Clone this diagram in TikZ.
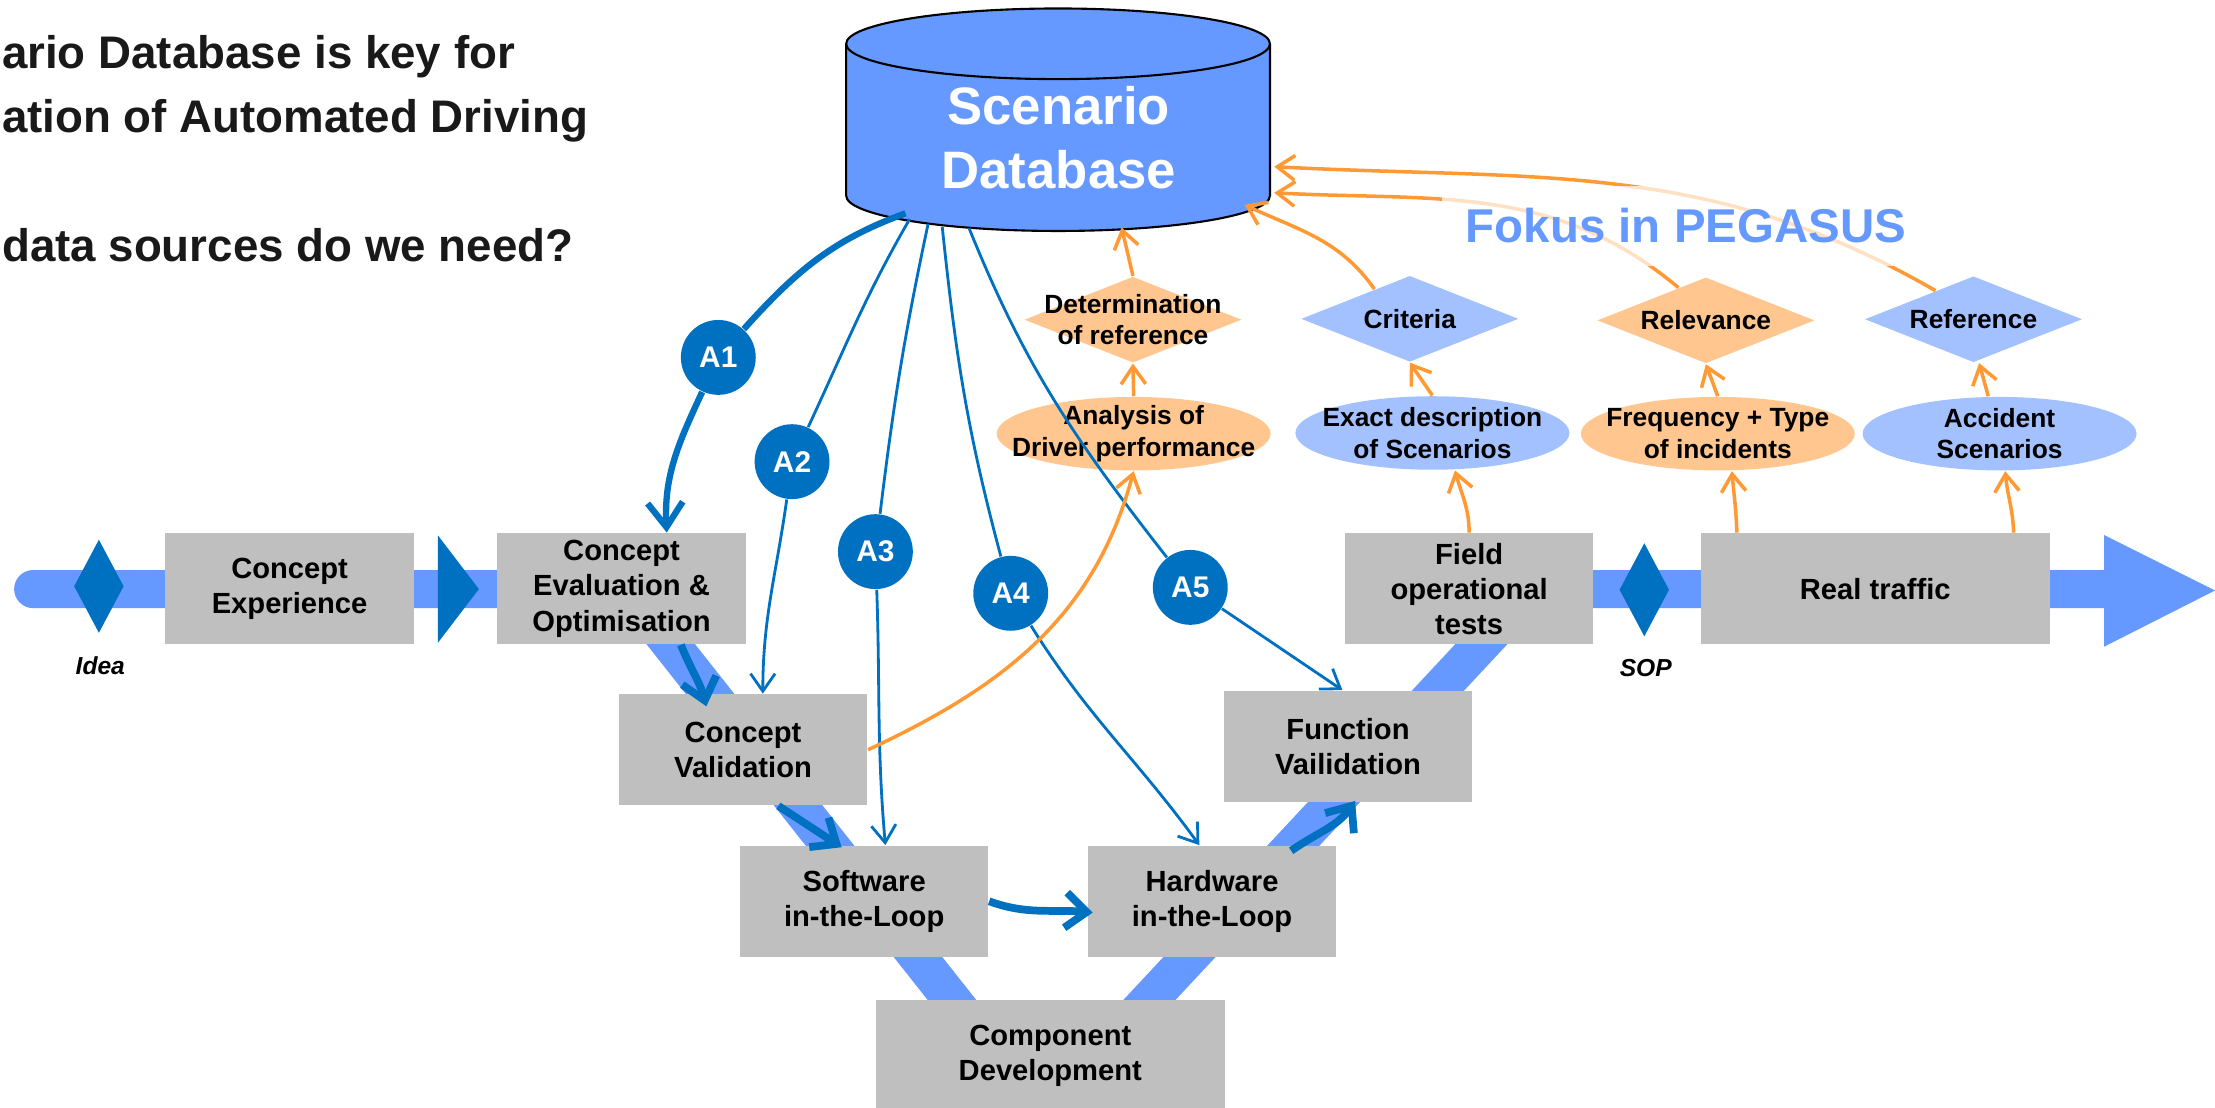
\documentclass[tikz,border=0pt]{standalone}
\usepackage{fontspec}
\setmainfont{Liberation Sans}
\usetikzlibrary{shapes.geometric,arrows.meta,calc}

\definecolor{bandblue}{RGB}{102,153,255}
\definecolor{darkblue}{RGB}{0,112,192}
\definecolor{boxgray}{RGB}{191,191,191}
\definecolor{lightorange}{RGB}{255,199,143}
\definecolor{lightblue}{RGB}{163,193,255}
\definecolor{lineorange}{RGB}{255,153,51}

\tikzset{
stage/.style={rectangle,fill=boxgray,align=center,minimum width=2.486cm,minimum height=1.109cm,inner sep=0pt,font=\fontsize{8.3}{10}\selectfont\bfseries},
widestage/.style={stage,minimum width=3.489cm},
source/.style={ellipse,minimum width=2.74cm,minimum height=0.735cm,inner sep=0pt},
check/.style={diamond,minimum width=2.175cm,minimum height=0.862cm,inner sep=0pt},
txt/.style={align=center,font=\fontsize{7.5}{9}\selectfont\bfseries},
acirc/.style={circle,fill=darkblue,text=white,minimum size=0.749cm,inner sep=0pt,font=\fontsize{8.5}{10}\selectfont\bfseries},
gate/.style={diamond,fill=darkblue,minimum width=0.5cm,minimum height=0.937cm,inner sep=0pt},
milestone/.style={font=\fontsize{7}{8}\selectfont\bfseries\itshape},
band/.style={bandblue,line width=3.814mm},
aline/.style={darkblue,line width=0.8pt,-{Straight Barb[length=5pt,width=7pt]}},
flow/.style={darkblue,line width=2.2pt,-{Straight Barb[length=6pt,width=10pt]}},
oline/.style={lineorange,line width=1pt,-{Straight Barb[length=5pt,width=7pt]}},
fokus/.style={fill=white,fill opacity=0.7,text opacity=1,text=bandblue,minimum width=4.874cm,minimum height=0.791cm,inner sep=0pt,font=\fontsize{13.5}{15}\selectfont\bfseries}
}

\begin{document}
\begin{tikzpicture}[x=0.014126cm,y=0.014126cm]
\useasboundingbox (0,0) rectangle (1568,-784);

% the process band (V) and its arrow
\draw[band,line cap=round,line join=round] (23.5,-417) -- (444,-417) -- (738,-789) -- (1085,-417) -- (1491,-417);
\fill[bandblue] (1489.5,-378.7) -- (1568,-418) -- (1489.5,-457.8) -- cycle;
\fill[darkblue] (310,-379) -- (339,-417) -- (310,-455) -- cycle;

% the database drum
\fill[bandblue] (599,-31) -- (599,-138.5) arc[start angle=180,end angle=360,x radius=150,y radius=25] -- (899,-31) -- cycle;
\draw[line width=0.6pt] (599,-31) -- (599,-138.5) arc[start angle=180,end angle=360,x radius=150,y radius=25] -- (899,-31);
\draw[line width=0.6pt,fill=bandblue] (749,-31) ellipse [x radius=150,y radius=25];
\node[align=center,text=white,font=\fontsize{15}{18}\selectfont\bfseries] (db) at (749.5,-97.5) {Scenario\\Database};
\coordinate (dba1) at (641,-151);
\coordinate (dba2) at (644,-155);
\coordinate (dba3) at (657,-158.5);
\coordinate (dba4) at (667,-160.5);
\coordinate (dba5) at (686,-161.5);
\coordinate (dbo1) at (794,-161);
\coordinate (dbo2) at (881,-145);
\coordinate (dbo3) at (902,-136.5);
\coordinate (dbo4) at (902,-118);

% the title text
\node[anchor=north west,align=left,inner sep=0pt,text=black!90,font=\fontsize{13}{18.3}\selectfont\bfseries] (head) at (1,-24.5) {ario Database is key for\\ation of Automated Driving\\[18.3pt]data sources do we need?};

% the stages along the V
\node[stage] (ce) at (205,-416.75) {Concept\\Experience};
\node[stage] (ceo) at (440,-416.75) {Concept\\Evaluation \&\\Optimisation};
\node[stage] (cv) at (526,-530.75) {Concept\\Validation};
\node[stage] (sil) at (611.75,-638) {Software\\in-the-Loop};
\node[stage] (hil) at (858,-638) {Hardware\\in-the-Loop};
\node[widestage] (comp) at (743.5,-747.25) {Component\\Development};
\node[stage] (fv) at (954.25,-528.25) {Function\\Vailidation};
\node[stage] (fot) at (1040,-416.75) {Field\\operational\\tests};
\node[widestage] (real) at (1327.5,-416.75) {Real traffic};

\node[gate] (idea) at (70,-415) {};
\node[gate] (sop) at (1164,-417.5) {};
\node[milestone] (idealbl) at (71,-471.5) {Idea};
\node[milestone] (soplbl) at (1165,-473) {SOP};

% the data sources and what they give
\node[source,fill=lightorange,label={[txt]center:{Analysis of\\Driver performance}}] (adp) at (802.5,-307) {};
\node[source,fill=lightblue,label={[txt]center:{Exact description\\of Scenarios}}] (eds) at (1014,-306.5) {};
\node[source,fill=lightorange,label={[txt]center:{Frequency + Type\\of incidents}}] (fti) at (1216,-307) {};
\node[source,fill=lightblue,label={[txt]center:{Accident\\Scenarios}}] (acs) at (1415.5,-307) {};

\node[check,fill=lightorange,label={[txt]center:{Determination\\of reference}}] (dor) at (802,-226.3) {};
\node[check,fill=lightblue,label={[txt]center:{Criteria}}] (cri) at (998,-225.7) {};
\node[check,fill=lightorange,label={[txt]center:{Relevance}}] (rel) at (1207.6,-226.8) {};
\node[check,fill=lightblue,label={[txt]center:{Reference}}] (ref) at (1397,-226) {};

% the A1..A5 marks
\node[acirc] (a1) at (508.5,-253) {A1};
\node[acirc] (a2) at (560.7,-326.8) {A2};
\node[acirc] (a3) at (619.7,-390.5) {A3};
\node[acirc] (a4) at (715.5,-420) {A4};
\node[acirc] (a5) at (842.6,-415.8) {A5};

% lines from the database to the stages
\draw[aline,line width=1.8pt,-{Straight Barb[length=7pt,width=10pt]}] (dba1) to[out=200,in=48] (a1) to[out=245,in=93] ($(ceo.north)+(32,0)$);
\draw[aline] (dba2) to[out=240,in=65] (a2) to[out=262,in=90] ($(cv.north)+(14,0)$);
\draw[aline] (dba3) to[out=258,in=83] (a3) to[out=272,in=95] ($(sil.north)+(15,0)$);
\draw[aline] (dba4) to[out=276,in=105] (a4) to[out=302,in=126] ($(hil.north)+(-9,0)$);
\draw[aline] (dba5) to[out=292,in=128] (a5) to[out=-34,in=146] ($(fv.north)+(-4,0)$);

% the flow along the V
\draw[flow] ($(ceo.south)+(42,0)$) to[out=-68,in=105] ($(cv.north)+(-26,-9)$);
\draw[flow] ($(cv.south)+(25,0)$) -- ($(sil.north)+(-16,-1.5)$);
\draw[flow] (sil.east) to[out=-20,in=175] ($(hil.west)+(4,-8)$);
\draw[flow] ($(hil.north)+(56,-4)$) to[out=35,in=-125] ($(fv.south)+(5,1)$);

% lines from the sources back up to the database
\draw[oline] (cv.east) to[out=25,in=-105] (adp.south);
\foreach \from/\to in {adp/dor,eds/cri,fti/rel}
  \draw[oline] (\from.north) -- (\to.south);
\draw[oline] ($(acs.north)+(-8,0)$) -- ($(ref.south)+(4,0)$);
\draw[oline] (fot.north) to[out=90,in=-75] ($(eds.south)+(16,0)$);
\draw[oline] ($(real.north west)+(26,0)$) to[out=92,in=-85] ($(fti.south)+(10,0)$);
\draw[oline] ($(real.north east)+(-26,0)$) to[out=92,in=-85] ($(acs.south)+(4,0)$);
\draw[oline] (dor.north) -- (dbo1);
\draw[oline] (cri.140) to[out=125,in=-25] (dbo2);
\draw[oline] (rel.130) to[out=140,in=-3] (dbo3);
\draw[oline] (ref.143) to[out=150,in=-3] (dbo4);

\node[fokus] (fok) at (1193.5,-160) {Fokus in PEGASUS};
\end{tikzpicture}
\end{document}
